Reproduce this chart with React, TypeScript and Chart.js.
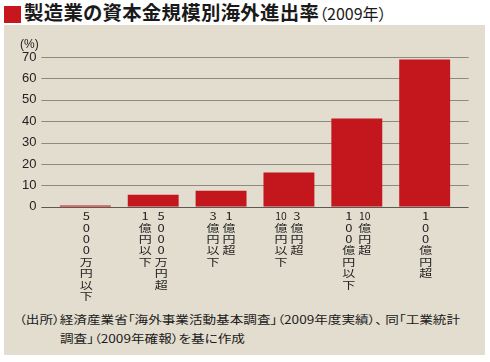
import React, { useEffect, useRef } from "react";
import { Chart, registerables } from "chart.js";

Chart.register(...registerables);

// Category labels: each category is a list of vertical columns, in reading order (right column first)
const categories: string[][] = [
  ["5000万円以下"],
  ["5000万円超", "1億円以下"],
  ["1億円超", "3億円以下"],
  ["3億円超", "10億円以下"],
  ["10億円超", "100億円以下"],
  ["100億円超"],
];
const rates: number[] = [0.6, 5.6, 7.4, 16.0, 41.3, 68.8];
const yTicks: number[] = [0, 10, 20, 30, 40, 50, 60, 70];
const yUnit = "(%)";
const titleMain = "製造業の資本金規模別海外進出率";
const titleSub = "（2009年）";
const sourceLine1 = "（出所）経済産業省「海外事業活動基本調査」（2009年度実績）、 同「工業統計";
const sourceLine2 = "調査」（2009年確報）を基に作成";

const JP = "'Noto Sans CJK JP', 'Noto Sans', sans-serif";

function splitCells(col: string): string[] {
  const out: string[] = [];
  for (const run of col.match(/\d+|\D/g) || []) {
    if (/^\d\d$/.test(run)) out.push(run);
    else out.push(...run.split(""));
  }
  return out;
}

const decorPlugin = {
  id: "decor",
  beforeDatasetsDraw(chart: any) {
    const { ctx, chartArea, scales } = chart;
    const y = scales.y;
    ctx.save();
    ctx.lineWidth = 1;
    for (const t of y.ticks) {
      if (t.value === 0) continue;
      const py = Math.round(y.getPixelForValue(t.value)) + 0.5;
      ctx.strokeStyle = "#8f8a7f";
      ctx.beginPath();
      ctx.moveTo(chartArea.left - 10, py);
      ctx.lineTo(chartArea.right + 10, py);
      ctx.stroke();
    }
    ctx.restore();
  },
  afterDatasetsDraw(chart: any) {
    const { ctx, chartArea, scales } = chart;
    const y = scales.y;
    const py = Math.round(y.getPixelForValue(0)) + 0.5;
    ctx.save();
    ctx.lineWidth = 1;
    ctx.strokeStyle = "#5d5a53";
    ctx.beginPath();
    ctx.moveTo(chartArea.left - 10, py);
    ctx.lineTo(chartArea.right + 10, py);
    ctx.stroke();
    ctx.restore();
  },
  afterDraw(chart: any) {
    const { ctx, chartArea, scales } = chart;
    const x = scales.x;
    ctx.save();
    ctx.fillStyle = "#222";
    ctx.textAlign = "center";
    ctx.textBaseline = "middle";
    ctx.font = `13px ${JP}`;
    categories.forEach((cols, i) => {
      const cx = x.getPixelForValue(i);
      const n = cols.length;
      cols.forEach((col, c) => {
        const colX = n === 1 ? cx + 1 : cx + 8 - c * 16;
        splitCells(col).forEach((cell, k) => {
          const cy = chartArea.bottom + 9.5 + k * 11.4;
          ctx.save();
          ctx.translate(colX, cy);
          ctx.scale(cell.length > 1 ? 0.8 : 1, 0.8);
          ctx.fillText(cell, 0, 0);
          ctx.restore();
        });
      });
    });
    // unit label
    ctx.textAlign = "left";
    ctx.font = `12px 'Liberation Sans', Arial, sans-serif`;
    ctx.fillText(yUnit, 16, chartArea.top - 12.5);
    ctx.restore();
  },
};

export default function App() {
  const canvasRef = useRef<HTMLCanvasElement | null>(null);

  useEffect(() => {
    if (!canvasRef.current) return;
    const chart = new Chart(canvasRef.current, {
      type: "bar",
      data: {
        labels: categories.map((c) => c.join(" ")),
        datasets: [
          {
            data: rates,
            backgroundColor: "#c3161d",
            borderWidth: 0,
            barPercentage: 0.75,
            categoryPercentage: 1,
          },
        ],
      },
      options: {
        responsive: false,
        animation: false,
        devicePixelRatio: 1,
        layout: { padding: { left: 0, right: 26.4, top: 32, bottom: 98.3 } },
        plugins: {
          legend: { display: false },
          tooltip: { enabled: false },
          title: { display: false },
        },
        scales: {
          x: {
            display: false,
          },
          y: {
            min: 0,
            max: 70,
            afterBuildTicks: (s: any) => {
              s.ticks = yTicks.map((v) => ({ value: v }));
            },
            afterFit: (s: any) => {
              s.width = 47.4;
            },
            grid: { display: false, drawTicks: false },
            border: { display: false },
            ticks: {
              padding: 15,
              color: "#222",
              font: { family: "'Liberation Sans', Arial, sans-serif", size: 13 },
            },
          },
        },
      },
      plugins: [decorPlugin],
    });
    return () => chart.destroy();
  }, []);

  return (
    <div
      style={{
        position: "fixed",
        left: 0,
        top: 0,
        width: 490,
        height: 362,
        background: "#ffffff",
        overflow: "hidden",
        fontFamily: JP,
        color: "#1a1a1a",
      }}
    >
      <div style={{ position: "absolute", left: 4, top: 6, width: 17, height: 17, background: "#c8161d" }} />
      <div
        style={{
          position: "absolute",
          left: 24,
          top: -1,
          fontSize: 19.4,
          fontWeight: 700,
          lineHeight: "26px",
          whiteSpace: "nowrap",
          fontFeatureSettings: '"palt"',
          letterSpacing: 0.3,
        }}
      >
        {titleMain}
        <span style={{ fontSize: 16, fontWeight: 400, letterSpacing: 0 }}>{titleSub}</span>
      </div>
      <div style={{ position: "absolute", left: 4, top: 25, width: 481, height: 330, background: "#e3ddcf" }} />
      <div style={{ position: "absolute", left: 4, top: 25, width: 481, height: 280 }}>
        <canvas ref={canvasRef} width={481} height={280} style={{ width: 481, height: 280, display: "block" }} />
      </div>
      <div
        style={{
          position: "absolute",
          left: 19,
          top: 310.3,
          fontSize: 13.6,
          lineHeight: "22px",
          whiteSpace: "nowrap",
          fontFeatureSettings: '"palt"',
          transform: "scaleY(0.84)",
          transformOrigin: "0 0",
          paddingLeft: 41,
          textIndent: -41,
          color: "#1a1a1a",
        }}
      >
        {sourceLine1}
        <br />
        {sourceLine2}
      </div>
    </div>
  );
}
